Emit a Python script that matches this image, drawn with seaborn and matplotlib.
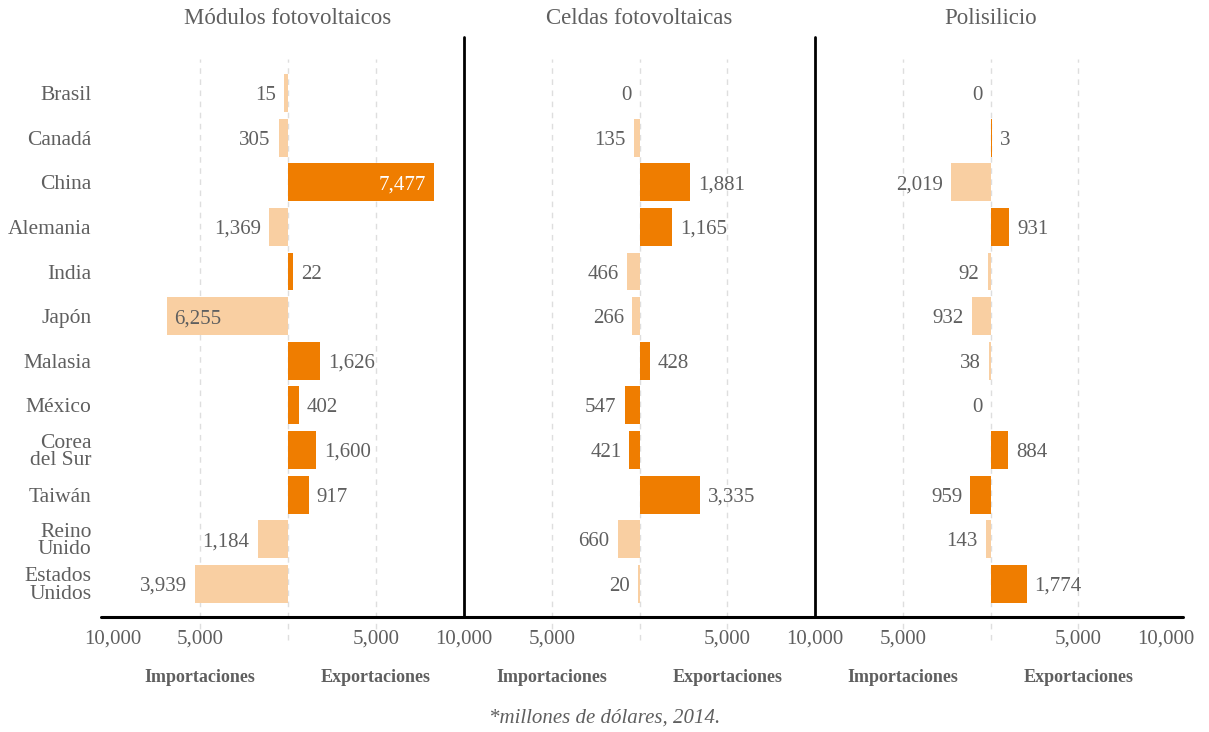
import numpy as np
import pandas as pd
import matplotlib
matplotlib.use('Agg')
import matplotlib.pyplot as plt
import matplotlib.transforms as mtransforms
from matplotlib.lines import Line2D
import seaborn as sns

# ---------------- data ----------------
paises = ['Brasil', 'Canadá', 'China', 'Alemania', 'India', 'Japón', 'Malasia',
          'México', 'Corea\ndel Sur', 'Taiwán', 'Reino\nUnido', 'Estados\nUnidos']
paneles = ['Módulos fotovoltaicos', 'Celdas fotovoltaicas', 'Polisilicio']

# bar lengths as drawn (signed: left = negative)
modulos_barra = [-250, -530, 8330, -1100, 300, -6880, 1810, 610, 1580, 1170, -1730, -5280]
celdas_barra = [0, -340, 2900, 1875, -740, -400, 570, -850, -570, 3470, -1250, -110]
polisilicio_barra = [0, 70, -2270, 1080, -170, -1080, -110, 0, 1020, -1140, -280, 2060]

# printed values
modulos_etiqueta = ['15', '305', '7,477', '1,369', '22', '6,255', '1,626', '402',
                    '1,600', '917', '1,184', '3,939']
celdas_etiqueta = ['0', '135', '1,881', '1,165', '466', '266', '428', '547',
                   '421', '3,335', '660', '20']
polisilicio_etiqueta = ['0', '3', '2,019', '931', '92', '932', '38', '0',
                        '884', '959', '143', '1,774']

# bar tone
modulos_tono = ['claro', 'claro', 'oscuro', 'claro', 'oscuro', 'claro', 'oscuro',
                'oscuro', 'oscuro', 'oscuro', 'claro', 'claro']
celdas_tono = ['claro', 'claro', 'oscuro', 'oscuro', 'claro', 'claro', 'oscuro',
               'oscuro', 'oscuro', 'oscuro', 'claro', 'claro']
polisilicio_tono = ['claro', 'oscuro', 'claro', 'oscuro', 'claro', 'claro', 'claro',
                    'claro', 'oscuro', 'oscuro', 'claro', 'oscuro']

tick_vals = [-10000, -5000, 5000, 10000]
tick_text = ['10,000', '5,000', '5,000', '10,000']
lado_izq, lado_der = 'Importaciones', 'Exportaciones'
nota = '*millones de dólares, 2014.'

# ---------------- style ----------------
sns.set_theme(style='white')
plt.rcParams['font.family'] = ['Liberation Serif', 'DejaVu Serif']
GRAY = '#5f5f5f'
palette = {'oscuro': '#ef7d00', 'claro': '#f9cfa2'}

W, H = 1209, 732
fig = plt.figure(figsize=(W / 100, H / 100), dpi=100)

top_px, bot_px = 37, 617
lefts = [112.5, 464, 815]
width_px = 351
row0_px, row_step = 93.0, 44.63
ylim_top = -(row0_px - top_px) / row_step
ylim_bot = (bot_px - row0_px) / row_step

datos = [
    (modulos_barra, modulos_etiqueta, modulos_tono),
    (celdas_barra, celdas_etiqueta, celdas_tono),
    (polisilicio_barra, polisilicio_etiqueta, polisilicio_tono),
]

PX = 72 / 100  # points per pixel

for k, (barra, etiqueta, tono) in enumerate(datos):
    ax = fig.add_axes([lefts[k] / W, 1 - bot_px / H, width_px / W, (bot_px - top_px) / H])
    ax.patch.set_alpha(0)
    df = pd.DataFrame({'pais': paises, 'valor': barra, 'tono': tono})
    sns.barplot(data=df, x='valor', y='pais', hue='tono', palette=palette,
                dodge=False, width=0.85, saturation=1, errorbar=None,
                legend=False, orient='h', linewidth=0, ax=ax)
    ax.set_xlim(-10000, 10000)
    ax.set_ylim(ylim_bot, ylim_top)
    ax.set_xlabel('')
    ax.set_ylabel('')

    trans = mtransforms.blended_transform_factory(ax.transData, ax.transAxes)
    for gx in [-5000, 0, 5000]:
        ax.axvline(gx, ymin=-0.04, ymax=0.962, color='#dedede', lw=1.0,
                   ls=(0, (4, 4)), zorder=0, clip_on=False)

    for s in ax.spines.values():
        s.set_visible(False)
    if k < 2:
        ax.axvline(10000, ymin=0, ymax=1, color='black', lw=2, zorder=5,
                   clip_on=False)

    if k < 2:
        ax.set_xticks(tick_vals[:3])
        ax.set_xticklabels(tick_text[:3])
    else:
        ax.set_xticks(tick_vals)
        ax.set_xticklabels(tick_text)
    ax.tick_params(axis='x', length=0, pad=9, labelsize=15, labelcolor=GRAY)

    if k == 0:
        ax.tick_params(axis='y', length=0, pad=15, labelsize=15.5, labelcolor=GRAY)
        for t in ax.get_yticklabels():
            t.set_linespacing(0.9)
    else:
        ax.tick_params(axis='y', left=False, labelleft=False)

    # value labels
    for i, (v, lab, tn) in enumerate(zip(barra, etiqueta, tono)):
        if abs(v) > 6000:
            if v > 0:
                ha, dx = 'right', -8
            else:
                ha, dx = 'left', 7
            col = 'white' if tn == 'oscuro' else GRAY
        else:
            if v > 0:
                ha, dx = 'left', 8
            else:
                ha, dx = 'right', -8
            col = GRAY
        ax.annotate(lab, xy=(v, i), xytext=(dx * PX, 0), textcoords='offset points',
                    ha=ha, va='center_baseline', fontsize=15, color=col)

    # panel title
    ax.text(0, 1 + (top_px - 19) / (bot_px - top_px), paneles[k], transform=trans,
            ha='center', va='center', fontsize=16.5, color=GRAY)
    # side labels
    yl = -(678 - bot_px) / (bot_px - top_px)
    ax.text(-5000, yl, lado_izq, transform=trans, ha='center', va='center',
            fontsize=13, fontweight='bold', color=GRAY)
    ax.text(5000, yl, lado_der, transform=trans, ha='center', va='center',
            fontsize=13, fontweight='bold', color=GRAY)

# bottom baseline across panels
fig.add_artist(Line2D([101 / W, 1183 / W], [1 - bot_px / H, 1 - bot_px / H],
                      color='black', lw=2.2, transform=fig.transFigure))

fig.text(605 / W, 1 - 718 / H, nota, ha='center', va='center', fontsize=15,
         style='italic', color=GRAY)

fig.savefig('out.png', dpi=100)
